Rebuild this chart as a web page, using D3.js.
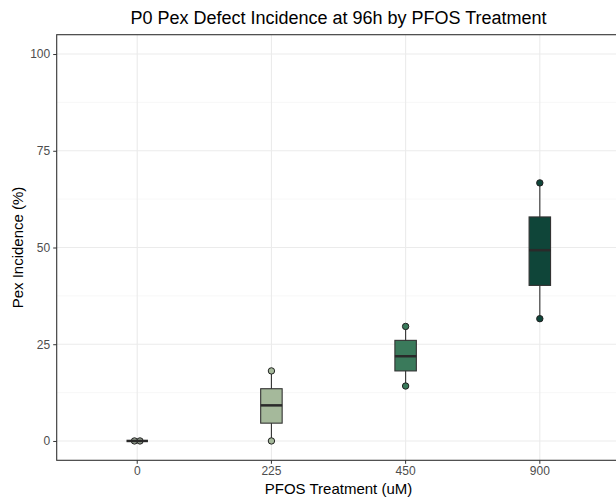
<!DOCTYPE html>
<html><head><meta charset="utf-8">
<script src="https://cdn.jsdelivr.net/npm/d3@7"></script>
<style>body{margin:0;background:#fff}svg{display:block}text{font-family:"Liberation Sans",Arial,sans-serif}</style>
</head><body>
<svg id="c" width="616" height="500"></svg>
<script>
const categories = ["0", "225", "450", "900"];
const q1 =     [0, 4.6, 18.1, 40.2];
const median = [0, 9.2, 21.9, 49.3];
const q3 =     [0, 13.5, 26.0, 57.9];
const minV =   [0, 0, 14.2, 31.6];
const maxV =   [0, 18.1, 29.6, 66.7];
const points = [[0, 0], [0, 18.1], [14.2, 29.6], [31.6, 66.7]];
const fills = ["#9aa595", "#a5b99b", "#3a7a5b", "#0f4539"];
const yTicks = [0, 25, 50, 75, 100];
const yMinor = [12.5, 37.5, 62.5, 87.5];

(function () {
const svg = d3.select("#c");
const pLeft = 56.7, pTop = 34.7, pBottom = 460.3;
const step = 134.2;
const pRight = pLeft + step * 4.2;

const x = d3.scaleBand().domain(categories).range([pLeft, pRight]).paddingInner(0).paddingOuter(0.1);
const xc = d => x(d) + x.bandwidth() / 2;
const y = d3.scaleLinear().domain([-5, 105]).range([pBottom, pTop]);

const g = svg.append("g");
g.selectAll(".ym").data(yMinor).join("line")
  .attr("x1", pLeft).attr("x2", pRight).attr("y1", d => y(d)).attr("y2", d => y(d))
  .attr("stroke", "#f3f3f3").attr("stroke-width", 0.6);
g.selectAll(".yM").data(yTicks).join("line")
  .attr("x1", pLeft).attr("x2", pRight).attr("y1", d => y(d)).attr("y2", d => y(d))
  .attr("stroke", "#ebebeb").attr("stroke-width", 1.1);
g.selectAll(".xM").data(categories).join("line")
  .attr("x1", d => xc(d)).attr("x2", d => xc(d)).attr("y1", pTop).attr("y2", pBottom)
  .attr("stroke", "#ebebeb").attr("stroke-width", 1.1);

const bw = x.bandwidth() * 0.16;
const data = categories.map((c, i) => ({c, i}));

const pts = [];
points.forEach((arr, i) => {
  const counts = {};
  arr.forEach(v => { counts[v] = (counts[v] || 0) + 1; });
  const seen = {};
  arr.forEach(v => {
    const n = counts[v]; const k = (seen[v] = (seen[v] || 0) + 1) - 1;
    const off = n > 1 ? (k - (n - 1) / 2) * 5.5 : 0;
    pts.push({i, v, off});
  });
});

svg.selectAll(".wh").data(data).join("line")
  .attr("x1", d => xc(d.c)).attr("x2", d => xc(d.c))
  .attr("y1", d => y(minV[d.i])).attr("y2", d => y(maxV[d.i]))
  .attr("stroke", "#333").attr("stroke-width", 1.1);

svg.selectAll(".pt").data(pts).join("circle")
  .attr("cx", d => xc(categories[d.i]) + d.off).attr("cy", d => y(d.v)).attr("r", 3.2)
  .attr("fill", d => fills[d.i]).attr("stroke", "#222").attr("stroke-width", 1);

svg.selectAll(".box").data(data).join("rect")
  .attr("x", d => xc(d.c) - bw / 2).attr("width", bw)
  .attr("y", d => y(q3[d.i])).attr("height", d => Math.max(0, y(q1[d.i]) - y(q3[d.i])))
  .attr("fill", d => fills[d.i]).attr("stroke", "#333").attr("stroke-width", 1.1);

svg.selectAll(".med").data(data).join("line")
  .attr("x1", d => xc(d.c) - bw / 2).attr("x2", d => xc(d.c) + bw / 2)
  .attr("y1", d => y(median[d.i])).attr("y2", d => y(median[d.i]))
  .attr("stroke", "#2a2a2a").attr("stroke-width", 2.5);

svg.append("rect").attr("x", pLeft).attr("y", pTop).attr("width", pRight - pLeft).attr("height", pBottom - pTop)
  .attr("fill", "none").attr("stroke", "#333").attr("stroke-width", 1.1);

const yAxis = d3.axisLeft(y).tickValues(yTicks).tickSize(3.5).tickPadding(3);
const ya = svg.append("g").attr("transform", `translate(${pLeft},0)`).call(yAxis);
ya.select(".domain").remove();
ya.selectAll("line").attr("stroke", "#333");
ya.selectAll("text").style("fill", "#4d4d4d").style("font-size", "12px");

const xAxis = d3.axisBottom(x).tickSize(3.5).tickPadding(3);
const xa = svg.append("g").attr("transform", `translate(0,${pBottom})`).call(xAxis);
xa.select(".domain").remove();
xa.selectAll("line").attr("stroke", "#333");
xa.selectAll("text").style("fill", "#4d4d4d").style("font-size", "12px");

svg.append("text").attr("x", (pLeft + pRight) / 2).attr("y", 24).attr("text-anchor", "middle")
  .style("font-size", "18px").attr("fill", "#000").text("P0 Pex Defect Incidence at 96h by PFOS Treatment");
svg.append("text").attr("x", (pLeft + pRight) / 2).attr("y", 494).attr("text-anchor", "middle")
  .style("font-size", "15px").attr("fill", "#000").text("PFOS Treatment (uM)");
svg.append("text").attr("transform", `translate(23,${(pTop + pBottom) / 2}) rotate(-90)`).attr("text-anchor", "middle")
  .style("font-size", "15px").attr("fill", "#000").text("Pex Incidence (%)");
})();
</script>
</body></html>
